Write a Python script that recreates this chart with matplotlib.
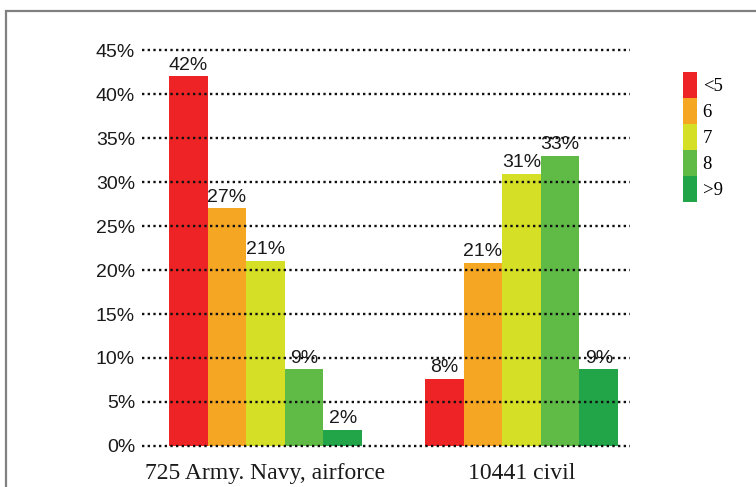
import numpy as np
import matplotlib.pyplot as plt
from matplotlib.patches import Patch, Rectangle

groups = ['725 Army. Navy, airforce', '10441 civil']
grades = ['<5', '6', '7', '8', '>9']
colors = ['#ee2325', '#f5a623', '#d4df26', '#5fbb46', '#22a549']

# percentage per grade, one list per group
army = [42.0, 27.0, 21.0, 8.7, 1.8]
civil = [7.6, 20.8, 30.9, 33.0, 8.7]
army_labels = ['42%', '27%', '21%', '9%', '2%']
civil_labels = ['8%', '21%', '31%', '33%', '9%']

yticks = [0, 5, 10, 15, 20, 25, 30, 35, 40, 45]
ytick_labels = ['0%', '5%', '10%', '15%', '20%', '25%', '30%', '35%', '40%', '45%']

fig = plt.figure(figsize=(7.56, 4.87), dpi=100)
ax = fig.add_axes([142 / 756, 1 - 446 / 487, (630 - 142) / 756, (446 - 50) / 487])

centers = np.array([0.0, 6.63])
offsets = np.arange(len(grades)) - 2
for i, c in enumerate(colors):
    vals = [army[i], civil[i]]
    labs = [army_labels[i], civil_labels[i]]
    bars = ax.bar(centers + offsets[i], vals, width=1.0, color=c,
                  edgecolor='none', zorder=1)
    ax.bar_label(bars, labels=labs, padding=2, fontsize=14,
                 family='Liberation Sans', color='#1a1a1a')

for y in yticks:
    ax.axhline(y, color='#111111', lw=1.7, ls=(0, (1, 1.4)), zorder=3,
               clip_on=False)

ax.set_xlim(-3.2, 9.44)
ax.set_ylim(0, 45)
ax.set_yticks(yticks)
ax.set_yticklabels(ytick_labels, family='Liberation Sans', fontsize=14,
                   color='#1a1a1a')
ax.set_xticks(centers)
ax.set_xticklabels(groups, family='Liberation Serif', fontsize=17,
                   color='#1a1a1a')
ax.tick_params(length=0)
ax.tick_params(axis='y', pad=5)
ax.tick_params(axis='x', pad=12)
for s in ax.spines.values():
    s.set_visible(False)

handles = [Patch(facecolor=c, edgecolor='none') for c in colors]
fig.legend(handles, grades, loc='upper left',
           bbox_to_anchor=(683 / 756, 1 - 72 / 487),
           frameon=False, borderpad=0, borderaxespad=0, labelspacing=0,
           handleheight=1.76, handlelength=0.75, handletextpad=0.3,
           prop={'family': 'Liberation Serif', 'size': 13.5})

fig.patches.append(Rectangle((6 / 756, -0.1), 1.1, 1 - 11 / 487 + 0.1,
                             transform=fig.transFigure, fill=False,
                             edgecolor='#808080', lw=1.6))

fig.savefig('out.png', dpi=100)
